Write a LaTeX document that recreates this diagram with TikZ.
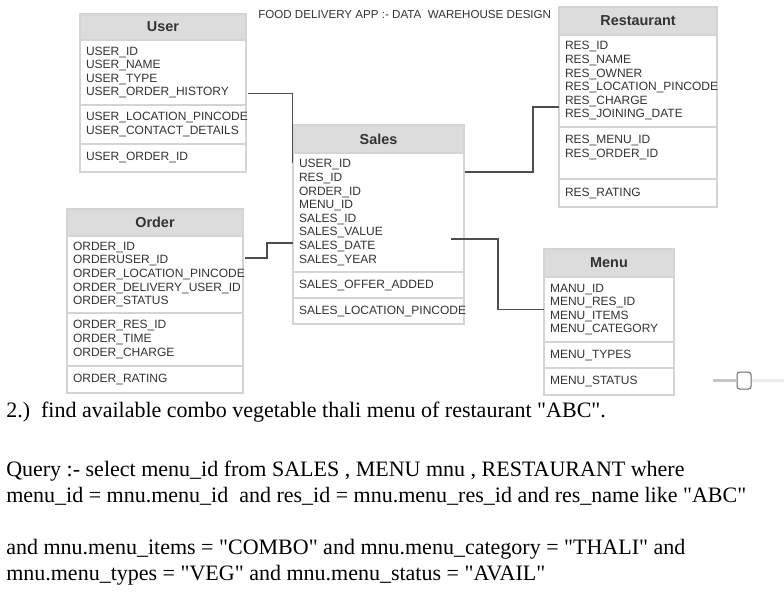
\documentclass[tikz,border=0pt]{standalone}
\usepackage{fontspec}
\setmainfont{Liberation Serif}[Ligatures=TeXOff]
\setsansfont{Liberation Sans}
\usepackage{xcolor}
\usepackage{tikz}
\usetikzlibrary{calc}

\definecolor{hdrgray}{HTML}{DCDCDC}
\definecolor{boxline}{HTML}{D4D4D4}
\definecolor{txtgray}{HTML}{333333}
\definecolor{wiregray}{HTML}{4D4D4D}

\tikzset{
  tblhead/.style={rectangle, draw=boxline, fill=hdrgray, anchor=north west, outer sep=0pt, inner sep=0pt, line width=0.9pt, font=\sffamily\bfseries\fontsize{10.8}{12}\selectfont, text=txtgray},
  tblsec/.style={rectangle, draw=boxline, fill=white, anchor=north west, outer sep=0pt, inner xsep=4.5pt, inner ysep=0pt, line width=0.9pt, align=left, font=\sffamily\fontsize{9}{10.2}\selectfont, text=txtgray},
  wire/.style={draw=wiregray, line width=0.9pt},
  qtext/.style={anchor=base west, inner sep=0pt, font=\fontsize{16.5}{20}\selectfont, text=black},
}

\begin{document}
\begin{tikzpicture}[x=0.75pt, y=-0.75pt]
\useasboundingbox [fill=white] (0,0) rectangle (784,603);

\node [anchor=base west, inner sep=0pt, font=\sffamily\fontsize{8.7}{10}\selectfont, text=txtgray] (ttl) at (258,18.5) {FOOD DELIVERY APP :- DATA\ \ WAREHOUSE DESIGN};

% User
\node [tblhead, minimum width=124.5pt, minimum height=19.5pt] (usr) at (80,14) {User};
\node [tblsec, text width=115.5pt, minimum height=48.75pt] (usr1) at (usr.south west) {USER\_ID\\USER\_NAME\\USER\_TYPE\\USER\_ORDER\_HISTORY};
\node [tblsec, text width=115.5pt, minimum height=29.25pt] (usr2) at (usr1.south west) {USER\_LOCATION\_PINCODE\\USER\_CONTACT\_DETAILS};
\node [tblsec, text width=115.5pt, minimum height=21pt] (usr3) at (usr2.south west) {USER\_ORDER\_ID};

% Restaurant
\node [tblhead, minimum width=118.5pt, minimum height=21pt] (res) at (559,7) {Restaurant};
\node [tblsec, text width=109.5pt, minimum height=69pt] (res1) at (res.south west) {RES\_ID\\RES\_NAME\\RES\_OWNER\\RES\_LOCATION\_PINCODE\\RES\_CHARGE\\RES\_JOINING\_DATE};
\node [tblsec, text width=109.5pt, minimum height=39pt] (res2) at (res1.south west) {RES\_MENU\_ID\\RES\_ORDER\_ID\\~};
\node [tblsec, text width=109.5pt, minimum height=21pt] (res3) at (res2.south west) {RES\_RATING};

% Sales
\node [tblhead, minimum width=128.25pt, minimum height=21pt] (sal) at (293,125) {Sales};
\node [tblsec, text width=119.25pt, minimum height=89.25pt] (sal1) at (sal.south west) {USER\_ID\\RES\_ID\\ORDER\_ID\\MENU\_ID\\SALES\_ID\\SALES\_VALUE\\SALES\_DATE\\SALES\_YEAR};
\node [tblsec, text width=119.25pt, minimum height=19.5pt] (sal2) at (sal1.south west) {SALES\_OFFER\_ADDED};
\node [tblsec, text width=119.25pt, minimum height=19.5pt] (sal3) at (sal2.south west) {SALES\_LOCATION\_PINCODE};

% Order
\node [tblhead, minimum width=132pt, minimum height=20.25pt] (ord) at (67,209) {Order};
\node [tblsec, text width=123pt, minimum height=57.75pt] (ord1) at (ord.south west) {ORDER\_ID\\ORDERUSER\_ID\\ORDER\_LOCATION\_PINCODE\\ORDER\_DELIVERY\_USER\_ID\\ORDER\_STATUS};
\node [tblsec, text width=123pt, minimum height=39.75pt] (ord2) at (ord1.south west) {ORDER\_RES\_ID\\ORDER\_TIME\\ORDER\_CHARGE};
\node [tblsec, text width=123pt, minimum height=20.25pt] (ord3) at (ord2.south west) {ORDER\_RATING};

% Menu
\node [tblhead, minimum width=97.5pt, minimum height=21pt] (men) at (544,249) {Menu};
\node [tblsec, text width=88.5pt, minimum height=48.75pt] (men1) at (men.south west) {MANU\_ID\\MENU\_RES\_ID\\MENU\_ITEMS\\MENU\_CATEGORY};
\node [tblsec, text width=88.5pt, minimum height=19.5pt] (men2) at (men1.south west) {MENU\_TYPES};
\node [tblsec, text width=88.5pt, minimum height=20.25pt] (men3) at (men2.south west) {MENU\_STATUS};

\draw [wire] ($(usr1.east)+(2,21)$) -| ($(sal1.north west)+(-0.5,10)$);
\draw [wire] ($(sal1.north east)+(1,19)$) -- ++(68,0) |- ($(res1.west)+(0,26)$);
\draw [wire] ($(ord1.east)+(2,-16.5)$) -- ++(22,0) |- ($(sal1.west)+(0,30.5)$);
\draw [wire] ($(sal1.east)+(-13,26.5)$) -- ++(47,0) |- (men1.west);

% slider
\node [rectangle, rounded corners=2pt, draw=gray!80!black, fill=white, minimum width=10.5pt, minimum height=12.75pt, inner sep=0pt, line width=0.75pt] (knob) at (744,380.5) {};
\draw [line width=2.2pt, draw=gray!45] (knob.west) -- ++(-24,0);
\draw [line width=2.2pt, draw=gray!15] (knob.east) -- ++(33,0);

\node [qtext] (q0) at (6,417) {2.)\ \ find available combo vegetable thali menu of restaurant "ABC".};
\node [qtext] (q1) at (6,476) {Query :- select menu\_id from SALES , MENU mnu , RESTAURANT where};
\node [qtext] (q2) at (6,502) {menu\_id = mnu.menu\_id\ \ and res\_id = mnu.menu\_res\_id and res\_name like "ABC"};
\node [qtext] (q3) at (6,554) {and mnu.menu\_items = "COMBO" and mnu.menu\_category = "THALI" and};
\node [qtext] (q4) at (6,580) {mnu.menu\_types = "VEG" and mnu.menu\_status = "AVAIL"};
\end{tikzpicture}
\end{document}
